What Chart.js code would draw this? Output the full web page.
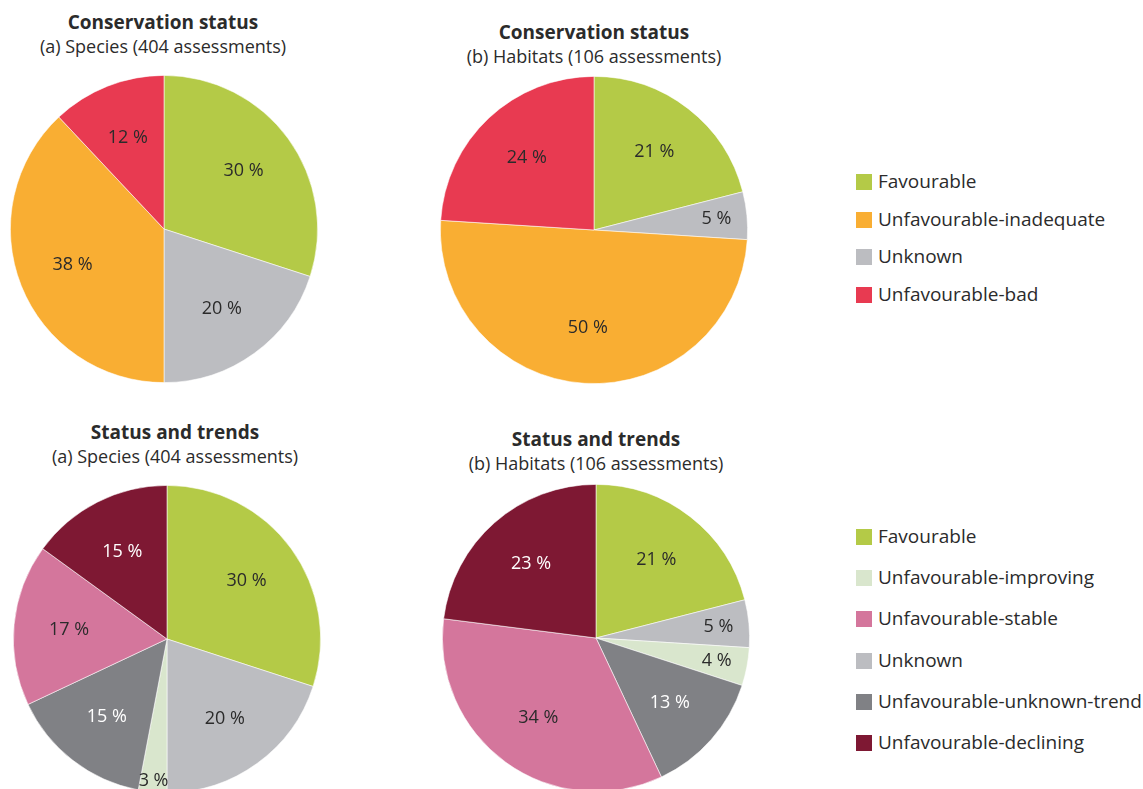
<!DOCTYPE html>
<html>
<head>
<meta charset="utf-8">
<script src="https://cdn.jsdelivr.net/npm/chart.js@4.4.1/dist/chart.umd.min.js"></script>
<style>
  html, body { margin: 0; padding: 0; background: #fff; width: 1143px; height: 789px; overflow: hidden; }
  body { position: relative; font-family: "Open Sans", "Noto Sans", sans-serif; color: #2b2b2b; }
  .title { position: absolute; width: 400px; text-align: center; line-height: 24px; }
  .title b { font-size: 19px; font-weight: 700; display: block; }
  .title span { font-size: 18px; display: block; }
  .pie { position: absolute; width: 320px; height: 320px; }
  .legend { position: absolute; left: 856px; }
  .legend .item { position: absolute; left: 0; height: 20px; white-space: nowrap; font-size: 19px; line-height: 20px; }
  .legend .sw { position: absolute; left: 0; top: 2px; width: 16px; height: 16px; }
  .legend .tx { position: absolute; left: 22px; top: -1px; }
</style>
</head>
<body>
<div class="title" style="left:-37px; top:10px;"><b>Conservation status</b><span>(a) Species (404 assessments)</span></div>
<div class="title" style="left:394px; top:20px;"><b>Conservation status</b><span>(b) Habitats (106 assessments)</span></div>
<div class="title" style="left:-25px; top:420px;"><b>Status and trends</b><span>(a) Species (404 assessments)</span></div>
<div class="title" style="left:396px; top:427px;"><b>Status and trends</b><span>(b) Habitats (106 assessments)</span></div>

<div class="pie" style="left:4px; top:69px;"><canvas id="c1" width="320" height="320"></canvas></div>
<div class="pie" style="left:434px; top:70px;"><canvas id="c2" width="320" height="320"></canvas></div>
<div class="pie" style="left:7px; top:479px;"><canvas id="c3" width="320" height="320"></canvas></div>
<div class="pie" style="left:436px; top:478px;"><canvas id="c4" width="320" height="320"></canvas></div>

<div class="legend" id="leg1" style="top:172px;"></div>
<div class="legend" id="leg2" style="top:527px;"></div>

<script>
// ---- Data ----
const statusCategories = ["Favourable", "Unknown", "Unfavourable-inadequate", "Unfavourable-bad"];
const statusSpecies = [30, 20, 38, 12];
const statusHabitats = [21, 5, 50, 24];
const statusLegendOrder = ["Favourable", "Unfavourable-inadequate", "Unknown", "Unfavourable-bad"];

const trendCategories = ["Favourable", "Unknown", "Unfavourable-improving", "Unfavourable-unknown-trend", "Unfavourable-stable", "Unfavourable-declining"];
const trendSpecies = [30, 20, 3, 15, 17, 15];
const trendHabitats = [21, 5, 4, 13, 34, 23];
const trendLegendOrder = ["Favourable", "Unfavourable-improving", "Unfavourable-stable", "Unknown", "Unfavourable-unknown-trend", "Unfavourable-declining"];

// ---- Styles ----
const colours = {
  "Favourable": "#b4ca47",
  "Unfavourable-inadequate": "#f9ae33",
  "Unknown": "#bcbdc1",
  "Unfavourable-bad": "#e83a51",
  "Unfavourable-improving": "#d9e6cd",
  "Unfavourable-stable": "#d4769c",
  "Unfavourable-unknown-trend": "#808185",
  "Unfavourable-declining": "#7e1833"
};
const whiteText = { "Unfavourable-unknown-trend": true, "Unfavourable-declining": true };

const labelPlugin = {
  id: 'sliceLabels',
  afterDatasetsDraw(chart) {
    const ctx = chart.ctx;
    const meta = chart.getDatasetMeta(0);
    const data = chart.data.datasets[0].data;
    const labels = chart.data.labels;
    ctx.save();
    ctx.font = '18px "Open Sans", "Noto Sans", sans-serif';
    ctx.textAlign = 'center';
    ctx.textBaseline = 'middle';
    meta.data.forEach((arc, i) => {
      const p = arc.getProps(['x', 'y', 'startAngle', 'endAngle', 'outerRadius'], true);
      const mid = (p.startAngle + p.endAngle) / 2;
      const v = data[i];
      let f = 0.64;
      if (v < 8) f = 0.8;
      if (v < 4) f = 0.93;
      const x = p.x + Math.cos(mid) * p.outerRadius * f;
      const y = p.y + Math.sin(mid) * p.outerRadius * f;
      ctx.fillStyle = whiteText[labels[i]] ? '#ffffff' : '#2b2b2b';
      ctx.fillText(v + ' %', x, y);
    });
    ctx.restore();
  }
};

function makePie(id, cats, vals) {
  new Chart(document.getElementById(id), {
    type: 'pie',
    data: {
      labels: cats,
      datasets: [{
        data: vals,
        backgroundColor: cats.map(c => colours[c]),
        borderColor: 'rgba(255,255,255,0.7)',
        borderWidth: 0.8
      }]
    },
    options: {
      responsive: false,
      animation: false,
      layout: { padding: 6 },
      plugins: { legend: { display: false }, tooltip: { enabled: false } }
    },
    plugins: [labelPlugin]
  });
}

makePie('c1', statusCategories, statusSpecies);
makePie('c2', statusCategories, statusHabitats);
makePie('c3', trendCategories, trendSpecies);
makePie('c4', trendCategories, trendHabitats);

function makeLegend(id, order, spacing) {
  const el = document.getElementById(id);
  order.forEach((name, i) => {
    const item = document.createElement('div');
    item.className = 'item';
    item.style.top = (i * spacing) + 'px';
    item.innerHTML = '<div class="sw" style="background:' + colours[name] + '"></div><div class="tx">' + name + '</div>';
    el.appendChild(item);
  });
}
makeLegend('leg1', statusLegendOrder, 37.5);
makeLegend('leg2', trendLegendOrder, 41.2);
</script>
</body>
</html>
